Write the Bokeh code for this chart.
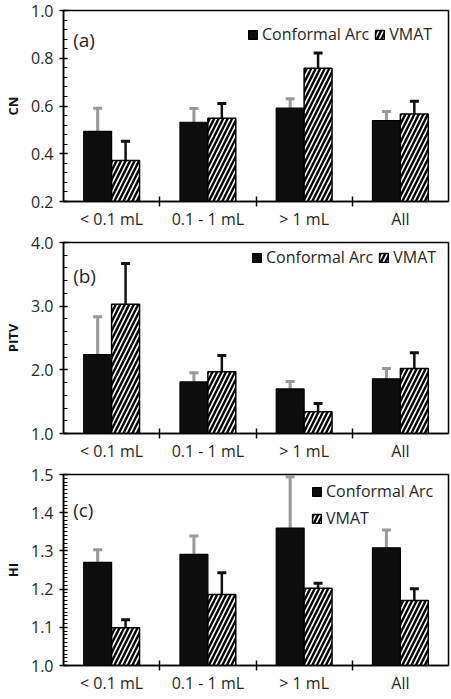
import numpy as np
from bokeh.plotting import figure
from bokeh.layouts import column
from bokeh.models import (Range1d, FixedTicker, Whisker, TeeHead, ColumnDataSource,
                          Legend, LegendItem, Label)
from bokeh.embed import file_html
from bokeh.resources import INLINE

categories = ["< 0.1 mL", "0.1 - 1 mL", "> 1 mL", "All"]
series_names = ["Conformal Arc", "VMAT"]

# (a) CN
cn_ca = [0.494, 0.532, 0.591, 0.539]
cn_ca_sd = [0.097, 0.058, 0.039, 0.038]
cn_vmat = [0.372, 0.549, 0.758, 0.567]
cn_vmat_sd = [0.080, 0.061, 0.064, 0.053]

# (b) PITV
pitv_ca = [2.24, 1.81, 1.70, 1.86]
pitv_ca_sd = [0.595, 0.145, 0.115, 0.160]
pitv_vmat = [3.03, 1.97, 1.34, 2.02]
pitv_vmat_sd = [0.640, 0.255, 0.130, 0.250]

# (c) HI
hi_ca = [1.270, 1.291, 1.360, 1.308]
hi_ca_sd = [0.033, 0.048, 0.134, 0.047]
hi_vmat = [1.099, 1.186, 1.202, 1.170]
hi_vmat_sd = [0.021, 0.057, 0.013, 0.031]

FONT = "Open Sans"
TXT = "#262626"
FRAME_H = 191


def panel(tag, ylabel, ca, ca_sd, vm, vm_sd, y0, y1, major, nminor,
          label_y, legend_vertical, legend_xy, bottom_border):
    p = figure(frame_width=385, frame_height=FRAME_H, output_backend="svg",
               toolbar_location=None, x_range=Range1d(0, 4), y_range=Range1d(y0, y1),
               min_border_left=54, min_border_right=4, min_border_top=10,
               min_border_bottom=bottom_border)
    p.xgrid.visible = False
    p.ygrid.visible = False
    p.outline_line_color = "black"
    p.outline_line_width = 1.5
    p.background_fill_color = "white"

    n = len(categories)
    centers = np.arange(n) + 0.5
    w = 0.29
    x_ca = centers - 0.145
    x_vm = centers + 0.145

    src_ca = ColumnDataSource(dict(x=x_ca, top=ca, lo=np.array(ca) - np.array(ca_sd),
                                   hi=np.array(ca) + np.array(ca_sd)))
    src_vm = ColumnDataSource(dict(x=x_vm, top=vm, lo=np.array(vm) - np.array(vm_sd),
                                   hi=np.array(vm) + np.array(vm_sd)))

    r_ca = p.vbar(x="x", top="top", bottom=y0, width=w, source=src_ca,
                  fill_color="#0d0d0d", line_color="black", line_width=1.2)
    r_vm = p.vbar(x="x", top="top", bottom=y0, width=w, source=src_vm,
                  fill_color="white", line_color="black", line_width=1.5,
                  hatch_pattern="/", hatch_color="black", hatch_weight=2.4, hatch_scale=9)

    wk_ca = Whisker(base="x", upper="hi", lower="lo", source=src_ca, dimension="height",
                    line_color="#999999", line_width=3,
                    upper_head=TeeHead(size=9, line_color="#999999", line_width=3),
                    lower_head=TeeHead(size=9, line_color="#999999", line_width=3))
    wk_vm = Whisker(base="x", upper="hi", lower="lo", source=src_vm, dimension="height",
                    line_color="#111111", line_width=2.5,
                    upper_head=TeeHead(size=9, line_color="#111111", line_width=3),
                    lower_head=TeeHead(size=9, line_color="#111111", line_width=3))
    p.add_layout(wk_ca)
    p.add_layout(wk_vm)

    # x axis
    xa = p.xaxis[0]
    xa.ticker = FixedTicker(ticks=list(centers), minor_ticks=[1, 2, 3])
    xa.major_label_overrides = {float(c): categories[i] for i, c in enumerate(centers)}
    xa.major_tick_line_color = None
    xa.major_tick_out = 5
    xa.major_tick_in = 0
    xa.minor_tick_in = 5
    xa.minor_tick_out = 5
    xa.minor_tick_line_width = 1.5
    xa.minor_tick_line_color = "black"
    xa.axis_line_color = "black"
    xa.axis_line_width = 1.5
    xa.major_label_standoff = 1
    xa.major_label_text_font = FONT
    xa.major_label_text_font_size = "16px"
    xa.major_label_text_color = TXT

    # y axis
    ya = p.yaxis[0]
    majors = list(np.round(np.arange(y0, y1 + major / 2, major), 4))
    step = major / nminor
    minors = [round(v, 4) for v in np.arange(y0, y1 + step / 2, step)]
    ya.ticker = FixedTicker(ticks=majors, minor_ticks=minors)
    ya.major_label_overrides = {float(v): f"{v:.1f}" for v in majors}
    ya.major_tick_in = 4
    ya.major_tick_out = 4
    ya.major_tick_line_width = 1.5
    ya.minor_tick_in = 4
    ya.minor_tick_out = 0
    ya.minor_tick_line_width = 1.2
    ya.axis_line_width = 1.5
    ya.major_label_standoff = 6
    ya.major_label_text_font = FONT
    ya.major_label_text_font_size = "16px"
    ya.major_label_text_color = TXT
    ya.axis_label = ylabel
    ya.axis_label_text_font = FONT
    ya.axis_label_text_font_size = "13px"
    ya.axis_label_text_font_style = "bold"
    ya.axis_label_text_color = "#111111"
    ya.axis_label_standoff = 6

    p.add_layout(Label(x=0.1, y=label_y, text=tag, text_font=FONT, text_font_size="19px",
                       text_baseline="top", text_color=TXT))

    legend = Legend(items=[LegendItem(label=series_names[0], renderers=[r_ca]),
                           LegendItem(label=series_names[1], renderers=[r_vm])],
                    location=legend_xy,
                    orientation="vertical" if legend_vertical else "horizontal",
                    background_fill_alpha=0, border_line_alpha=0,
                    glyph_width=11, glyph_height=11, label_standoff=4,
                    spacing=5, padding=0, margin=0,
                    label_text_font=FONT, label_text_font_size="16px",
                    label_text_color=TXT, label_height=11)
    p.add_layout(legend)
    return p


pa = panel("(a)", "CN", cn_ca, cn_ca_sd, cn_vmat, cn_vmat_sd, 0.2, 1.0, 0.2, 5,
           0.93, False, (184, 156), 28)
pb = panel("(b)", "PITV", pitv_ca, pitv_ca_sd, pitv_vmat, pitv_vmat_sd, 1.0, 4.0, 1.0, 5,
           3.68, False, (188, 165), 28)
pc = panel("(c)", "HI", hi_ca, hi_ca_sd, hi_vmat, hi_vmat_sd, 1.0, 1.5, 0.1, 10,
           1.44, True, (248, 136), 28)

layout = column(pa, pb, pc, spacing=0)
open("out.html", "w").write(file_html(layout, INLINE))
